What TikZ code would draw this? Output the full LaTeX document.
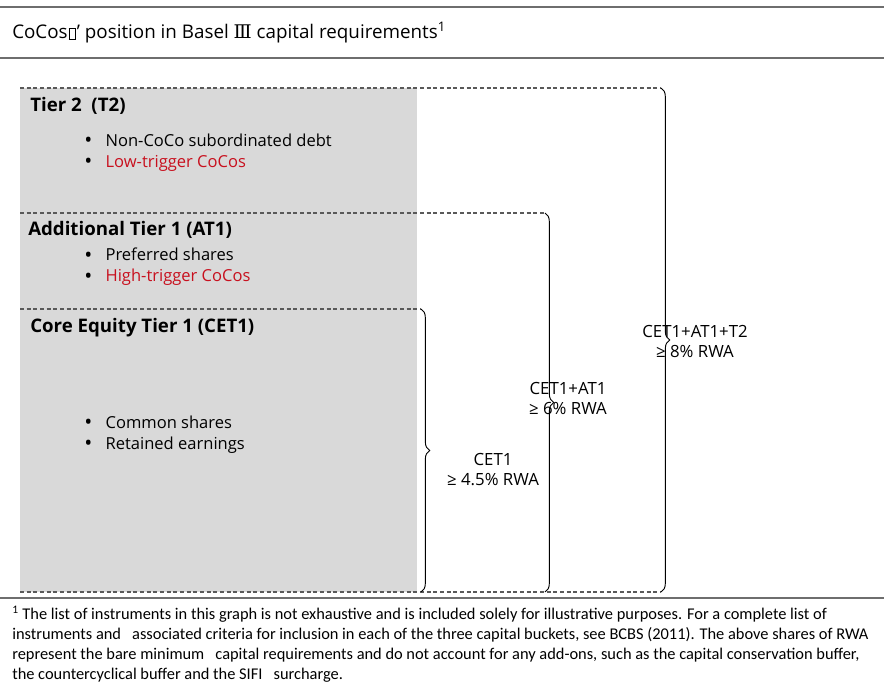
\documentclass[tikz,border=0pt]{standalone}
\usepackage{fontspec}
\setmainfont{Open Sans}
\newfontfamily\notefont{Carlito}
\newfontfamily\romanfont{DejaVu Serif}
\usetikzlibrary{decorations.pathreplacing}

\definecolor{tiergray}{RGB}{217,217,217}
\definecolor{cocored}{RGB}{200,16,30}
\definecolor{rulegray}{RGB}{110,110,110}

\newcommand{\bulletitem}[1]{\makebox[16pt][l]{\color{black}\smash{\raisebox{-1pt}{\fontsize{16}{14}\selectfont\textbullet}}}#1}
\newcommand{\missingglyph}{\kern0.8pt{\setlength{\fboxsep}{0pt}\setlength{\fboxrule}{0.5pt}\fbox{\rule{0pt}{7.5pt}\hspace{4.5pt}}}\kern0.6pt}

\begin{document}
\begin{tikzpicture}[x=0.75pt, y=-0.75pt,
  font=\fontsize{12.4}{14}\selectfont,
  head/.style={anchor=west, inner sep=0pt, font=\fontsize{14}{16}\selectfont\bfseries},
  items/.style={anchor=west, inner sep=0pt, align=left, font=\fontsize{12.4}{15.75}\selectfont},
  tierline/.style={densely dashed, draw=black!65, line width=0.8pt},
  req/.style={decorate, decoration={brace, amplitude=6.5pt}, line width=0.7pt},
  reqlabel/.style={align=center, inner sep=0pt, font=\fontsize{12.6}{15}\selectfont},
  hrule/.style={draw=rulegray, line width=1.1pt},
]
\useasboundingbox (0,0) rectangle (884,688);

% Title between the two rules.
\draw[hrule] (0,7) -- (884,7);
\node[anchor=west, inner sep=0pt, font=\fontsize{14.1}{16}\selectfont] (title) at (12,33)
  {CoCos\missingglyph’ position in Basel {\romanfont Ⅲ} capital requirements\textsuperscript{1}};
\draw[draw=rulegray, line width=0.8pt] (0,58) -- (884,58);

% The grey block holding the three tiers.
\fill[tiergray] (20,88) rectangle (417,592);

% Tier borders, each running out to its brace.
\coordinate (t2top)  at (20,88);
\coordinate (at1top) at (20,213);
\coordinate (cettop) at (20,309);
\coordinate (bottom) at (20,592);
\coordinate (t2end)  at (661,88);
\coordinate (at1end) at (545,213);
\coordinate (cetend) at (421,309);
\coordinate (botend) at (661,592);
\draw[tierline] (t2top) -- (t2end);
\draw[tierline] (at1top) -- (at1end);
\draw[tierline] (cettop) -- (cetend);
\draw[tierline] (bottom) -- (botend);

% Tier contents.
\node[head]  (t2)    at (30,106)    {Tier 2\ \ (T2)};
\node[items] (t2in)  at (84,152.5)  {\bulletitem{Non-CoCo subordinated debt}\\
                                      \bulletitem{\textcolor{cocored}{Low-trigger CoCos}}};
\node[head]  (at1)   at (28,230)    {Additional Tier 1 (AT1)};
\node[items] (at1in) at (84,267)    {\bulletitem{Preferred shares}\\
                                      \bulletitem{\textcolor{cocored}{High-trigger CoCos}}};
\node[head]  (cet)   at (30,328)    {Core Equity Tier 1 (CET1)};
\node[items] (cetin) at (84,434.5)  {\bulletitem{Common shares}\\
                                      \bulletitem{Retained earnings}};

% Minimum requirements as braces.
\coordinate (cetbot) at (421,592);
\coordinate (at1bot) at (545,592);
\coordinate (t2bot)  at (661,592);
\draw[req] (cetend) -- (cetbot);
\draw[req] (at1end) -- (at1bot);
\draw[req] (t2end) -- (t2bot);

\node[reqlabel] (mincet) at (493,470) {CET1\\≥ 4.5\% RWA};
\node[reqlabel] (minat1) at (568,398) {CET1+AT1\\≥ 6\% RWA};
\node[reqlabel] (mint2)  at (695,341) {CET1+AT1+T2\\≥ 8\% RWA};

% Footnote.
\draw[draw=rulegray, line width=1.6pt] (0,598) -- (884,598);
\node[anchor=north west, inner sep=0pt, align=left,
      font=\notefont\fontsize{12.3}{15}\selectfont] (note) at (12,606)
  {\textsuperscript{1} The list of instruments in this graph is not exhaustive and is included solely for illustrative purposes. For a complete list of\\
   instruments and\ \ \ associated criteria for inclusion in each of the three capital buckets, see BCBS (2011). The above shares of RWA\\
   represent the bare minimum\ \ \ capital requirements and do not account for any add-ons, such as the capital conservation buffer,\\
   the countercyclical buffer and the SIFI\ \ \ surcharge.};
\end{tikzpicture}
\end{document}
